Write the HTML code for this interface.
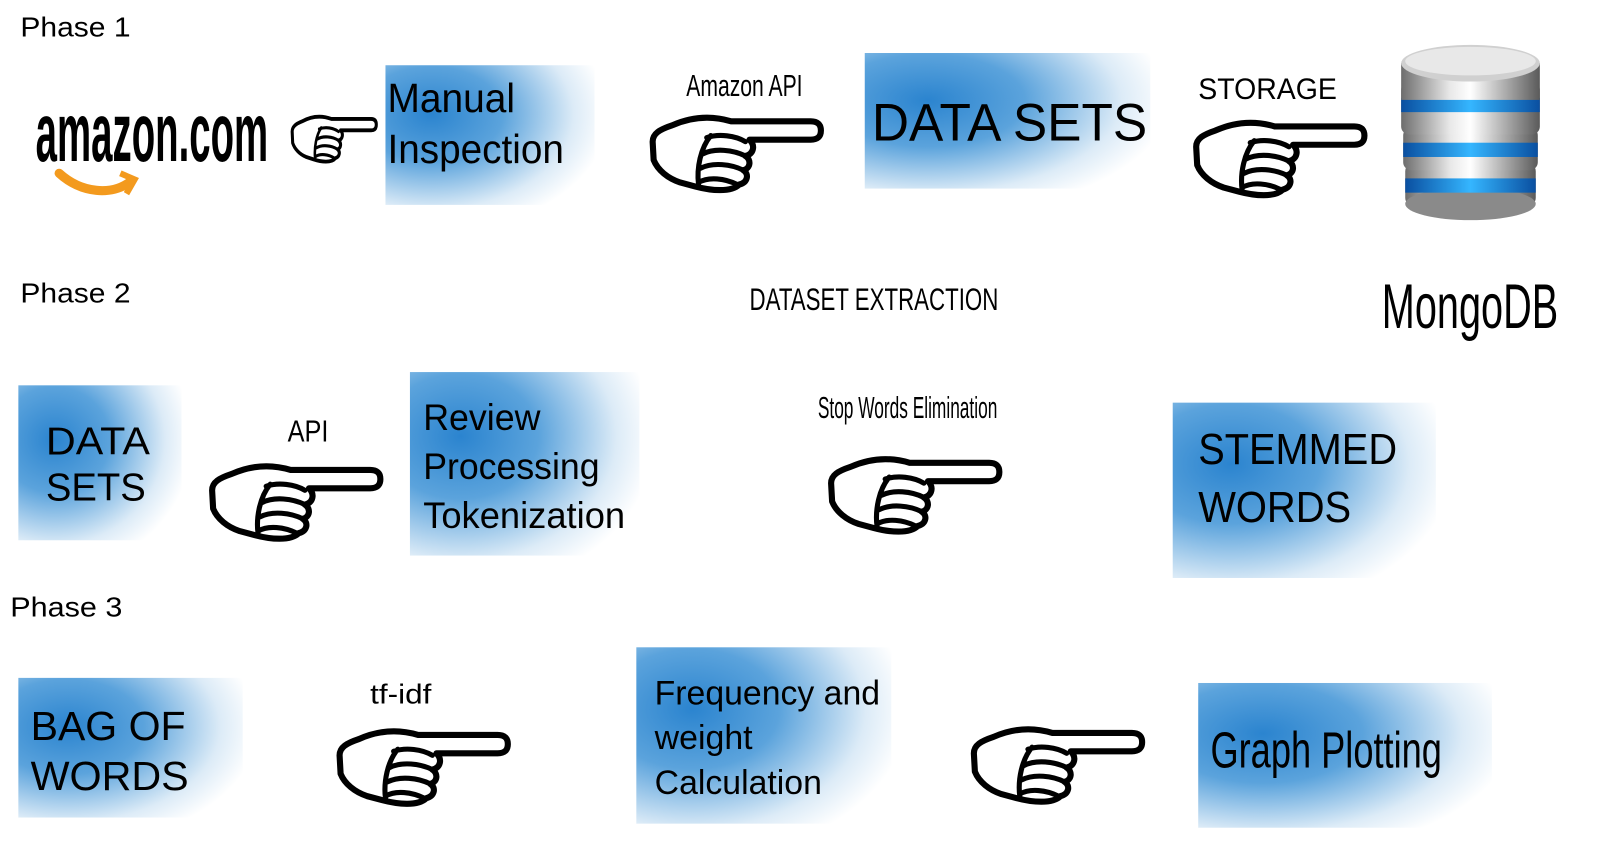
<!DOCTYPE html>
<html><head><meta charset="utf-8"><style>
html,body{margin:0;padding:0;background:#fff;width:1600px;height:842px;overflow:hidden}
svg{display:block}
text{font-family:"Liberation Sans",sans-serif;fill:#000}
</style></head><body>
<svg width="1600" height="842" viewBox="0 0 1569 826" preserveAspectRatio="none" xmlns="http://www.w3.org/2000/svg">
<defs>
<radialGradient id="g" cx="0.22" cy="0.35" r="0.85">
<stop offset="0" stop-color="#2b84cf"/>
<stop offset="0.4" stop-color="#5ba3dc"/>
<stop offset="0.8" stop-color="#dcebf7"/>
<stop offset="1" stop-color="#ffffff"/>
</radialGradient>
<linearGradient id="metal" x1="0" x2="1" y1="0" y2="0">
<stop offset="0" stop-color="#6d6d6d"/><stop offset="0.35" stop-color="#e8e8e8"/>
<stop offset="0.5" stop-color="#ffffff"/><stop offset="0.7" stop-color="#bdbdbd"/><stop offset="1" stop-color="#5a5a5a"/>
</linearGradient>
<linearGradient id="blue" x1="0" x2="1"><stop offset="0" stop-color="#0a4fa0"/><stop offset="0.5" stop-color="#35b6ff"/><stop offset="1" stop-color="#0a4fa0"/></linearGradient>
<g id="hand">
<path d="M80,14 L158,14 Q168,14 168,23 Q168,32 158,32 L98,32 C104,38 102,46 94,48 C100,52 99,60 92,62 C98,66 96,74 88,76 C80,84 60,82 45,78 L30,74 C18,70 8,62 4,52 L3,34 C3,26 10,22 22,18 C40,10 60,8 80,14 Z" fill="#fff" stroke="#000" stroke-width="6" stroke-linejoin="round"/>
<path d="M56,30 C68,26 84,28 94,34 M52,46 C64,40 82,42 94,48 M50,60 C62,54 80,56 92,62 M48,74 C58,68 74,70 86,76 M60,28 C50,40 46,60 48,76" fill="none" stroke="#000" stroke-width="5" stroke-linecap="round"/>
</g>
</defs>

<text x="20" y="36" font-size="27" textLength="108" lengthAdjust="spacingAndGlyphs">Phase 1</text>
<text x="35" y="158" font-size="82" font-weight="bold" textLength="228" lengthAdjust="spacingAndGlyphs">amazon.com</text>
<path d="M58,170 C80,190 110,192 128,178" fill="none" stroke="#f39a1e" stroke-width="9" stroke-linecap="round"/>
<path d="M118,170 L132,176 L124,190" fill="none" stroke="#f39a1e" stroke-width="6"/>
<use href="#hand" transform="translate(285,108) scale(0.5,0.62)"/>

<rect x="378" y="64" width="205" height="137" fill="url(#g)"/>
<text x="380" y="110" font-size="40" textLength="125" lengthAdjust="spacingAndGlyphs">Manual</text>
<text x="380" y="160" font-size="40" textLength="173" lengthAdjust="spacingAndGlyphs">Inspection</text>

<text x="730" y="94" font-size="30" text-anchor="middle" textLength="114" lengthAdjust="spacingAndGlyphs">Amazon API</text>
<use href="#hand" transform="translate(637,105)"/>

<rect x="848" y="52" width="280" height="133" fill="url(#g)"/>
<text x="855" y="138" font-size="52" textLength="270" lengthAdjust="spacingAndGlyphs">DATA SETS</text>

<text x="1175" y="97" font-size="29" textLength="136" lengthAdjust="spacingAndGlyphs">STORAGE</text>
<use href="#hand" transform="translate(1170,110)"/>

<g>
<rect x="1378" y="160" width="128" height="42" rx="8" fill="url(#metal)"/>
<ellipse cx="1442" cy="200" rx="64" ry="16" fill="#8a8a8a"/>
<rect x="1378" y="175" width="128" height="14" fill="url(#blue)"/>
<rect x="1376" y="125" width="132" height="42" rx="8" fill="url(#metal)"/>
<rect x="1376" y="140" width="132" height="14" fill="url(#blue)"/>
<rect x="1374" y="80" width="136" height="52" rx="8" fill="url(#metal)"/>
<rect x="1374" y="96" width="136" height="14" fill="url(#blue)"/>
<rect x="1374" y="62" width="136" height="36" fill="url(#metal)"/>
<ellipse cx="1442" cy="62" rx="68" ry="18" fill="#d0d0d0"/>
<ellipse cx="1442" cy="60" rx="64" ry="14" fill="#e8e8e8"/>
</g>

<text x="20" y="297" font-size="27" textLength="108" lengthAdjust="spacingAndGlyphs">Phase 2</text>
<text x="857" y="304" font-size="31" text-anchor="middle" textLength="244" lengthAdjust="spacingAndGlyphs">DATASET EXTRACTION</text>
<text x="1355" y="322" font-size="62" textLength="173" lengthAdjust="spacingAndGlyphs">MongoDB</text>

<rect x="18" y="378" width="160" height="152" fill="url(#g)"/>
<text x="45" y="446" font-size="38" textLength="102" lengthAdjust="spacingAndGlyphs">DATA</text>
<text x="45" y="491" font-size="38" textLength="98" lengthAdjust="spacingAndGlyphs">SETS</text>

<text x="302" y="433" font-size="30" text-anchor="middle" textLength="40" lengthAdjust="spacingAndGlyphs">API</text>
<use href="#hand" transform="translate(205,447)"/>

<rect x="402" y="365" width="225" height="180" fill="url(#g)"/>
<text x="415" y="422" font-size="36" textLength="115" lengthAdjust="spacingAndGlyphs">Review</text>
<text x="415" y="470" font-size="36" textLength="173" lengthAdjust="spacingAndGlyphs">Processing</text>
<text x="415" y="518" font-size="36" textLength="198" lengthAdjust="spacingAndGlyphs">Tokenization</text>

<text x="890" y="410" font-size="30" text-anchor="middle" textLength="176" lengthAdjust="spacingAndGlyphs">Stop Words Elimination</text>
<use href="#hand" transform="translate(812,440)"/>

<rect x="1150" y="395" width="258" height="172" fill="url(#g)"/>
<text x="1175" y="455" font-size="43" textLength="195" lengthAdjust="spacingAndGlyphs">STEMMED</text>
<text x="1175" y="512" font-size="43" textLength="150" lengthAdjust="spacingAndGlyphs">WORDS</text>

<text x="10" y="605" font-size="27" textLength="110" lengthAdjust="spacingAndGlyphs">Phase 3</text>

<rect x="18" y="665" width="220" height="137" fill="url(#g)"/>
<text x="30" y="726" font-size="40" textLength="152" lengthAdjust="spacingAndGlyphs">BAG OF</text>
<text x="30" y="775" font-size="40" textLength="155" lengthAdjust="spacingAndGlyphs">WORDS</text>

<text x="393" y="690" font-size="27" text-anchor="middle" textLength="60" lengthAdjust="spacingAndGlyphs">tf-idf</text>
<use href="#hand" transform="translate(330,707)"/>

<rect x="624" y="635" width="250" height="173" fill="url(#g)"/>
<text x="642" y="691" font-size="34" textLength="221" lengthAdjust="spacingAndGlyphs">Frequency and</text>
<text x="642" y="735" font-size="34" textLength="96" lengthAdjust="spacingAndGlyphs">weight</text>
<text x="642" y="779" font-size="34" textLength="164" lengthAdjust="spacingAndGlyphs">Calculation</text>

<use href="#hand" transform="translate(952,705)"/>

<rect x="1175" y="670" width="288" height="142" fill="url(#g)"/>
<text x="1187" y="753" font-size="50" textLength="227" lengthAdjust="spacingAndGlyphs">Graph Plotting</text>
</svg>
</body></html>
